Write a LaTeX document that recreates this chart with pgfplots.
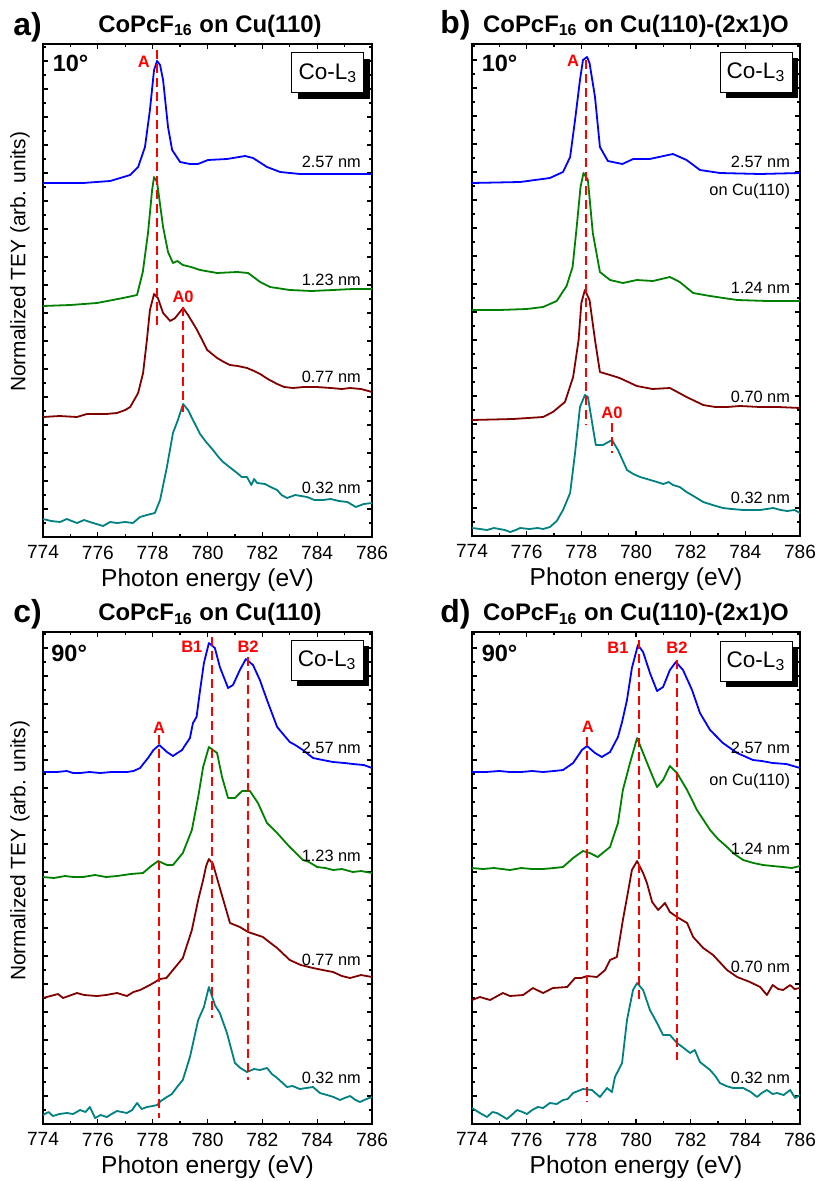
\documentclass[border=0pt]{standalone}
\usepackage{fontspec}
\setmainfont{Liberation Sans}
\setsansfont{Liberation Sans}
\usepackage{pgfplots}
\pgfplotsset{compat=1.18}
\usetikzlibrary{shadows}
\definecolor{cBlue}{HTML}{0000FF}
\definecolor{cGreen}{HTML}{008000}
\definecolor{cMaroon}{HTML}{800000}
\definecolor{cTeal}{HTML}{008080}
\definecolor{cRed}{HTML}{FF0000}

\pgfplotsset{
  xas/.style={
    scale only axis, clip=false,
    xmin=774, xmax=786, ymin=0,
    xtick={774,776,...,786}, minor x tick num=1,
    ytick={0,28,...,490}, minor y tick num=1, yticklabels={},
    tick align=inside, major tick length=2.6bp, minor tick length=1.6bp,
    axis line style={line width=1bp},
    every tick/.style={black, line width=0.6bp},
    ticklabel style={font=\fontsize{9.6}{11}\selectfont},
    xticklabel style={yshift=-0.8bp},
    /pgf/number format/assume math mode=true,
    /pgf/number format/1000 sep={},
    xlabel={Photon energy (eV)},
    xlabel style={font=\fontsize{12.3}{14}\selectfont, at={(axis description cs:0.5,-0.087)}, anchor=center},
  },
  spec/.style={line width=0.9bp, line join=round},
  mark line/.style={cRed, line width=1bp, dash pattern=on 4.5bp off 2.5bp},
}
\tikzset{
  pk/.style={text=cRed, font=\bfseries\fontsize{8.3}{9}\selectfont},
  thk/.style={anchor=base east, font=\fontsize{8.2}{9}\selectfont},
  ang/.style={anchor=west, font=\bfseries\fontsize{11.8}{13}\selectfont},
  edge/.style={draw=black, line width=0.5bp, fill=white, minimum width=36bp, minimum height=20bp,
    inner sep=0pt, font=\fontsize{11.3}{12}\selectfont,
    drop shadow={shadow xshift=3bp, shadow yshift=-3.2bp, fill=black, opacity=1}},
  lett/.style={anchor=base west, font=\bfseries\fontsize{16}{18}\selectfont, inner sep=0pt},
  ttl/.style={anchor=base, font=\bfseries\fontsize{12}{14}\selectfont, inner sep=0pt},
}

\begin{document}
\begin{tikzpicture}
\path[use as bounding box] (0,0) rectangle (408.5bp,-590.5bp);

% ---------------- a) 10 deg, Cu(110)
\begin{axis}[xas, at={(21.5bp,-268.5bp)}, anchor=south west,
  width=164.5bp, height=246.5bp, ymax=493,
  ylabel={Normalized TEY (arb. units)},
  ylabel style={font=\fontsize{10.5}{12}\selectfont, at={(axis description cs:-0.07,0.558)}, anchor=center}]
\addplot[spec, cBlue] coordinates {
 (774.0,354) (775.46,354) (776.45,356) (777.18,362) (777.47,370) (777.72,390) (777.90,427)
 (778.05,467) (778.16,476) (778.27,472) (778.38,457) (778.56,410) (778.71,387) (779.00,375)
 (779.36,373) (779.65,373) (780.02,377) (780.71,378) (781.37,381) (781.66,379) (782.17,370)
 (782.65,365) (783.37,363) (784.57,363) (786.0,363)};
\addplot[spec, cGreen] coordinates {
 (774.0,231) (775.0,232) (775.97,234) (776.92,239) (777.43,242) (777.64,265) (777.83,304)
 (777.98,347) (778.05,360) (778.16,355) (778.38,310) (778.56,285) (778.74,274) (778.9,276)
 (779.1,272) (779.4,270) (779.73,267) (780.35,264) (781.08,265) (781.48,264) (781.92,255)
 (782.28,250) (783.0,247) (783.8,246) (784.57,247) (785.3,248) (786.0,248)};
\addplot[spec, cMaroon] coordinates {
 (774.0,120) (774.6,121) (775.24,120) (775.6,123) (775.97,123) (776.3,123) (776.70,124)
 (777.0,127) (777.18,130) (777.47,144) (777.65,164) (777.79,197) (777.90,227) (778.05,243)
 (778.19,239) (778.38,224) (778.64,216) (778.82,219) (779.11,229) (779.29,222) (779.62,207)
 (779.99,187) (780.35,179) (780.6,175) (780.82,172) (781.1,171) (781.44,169) (781.7,166)
 (781.92,163) (782.2,158) (782.54,153) (782.8,150) (783.12,149) (783.5,150) (783.99,150)
 (784.5,149) (784.9,148) (785.20,149) (785.6,148) (786.0,145)};
\addplot[spec, cTeal] coordinates {
 (774.0,18) (774.3,16) (774.62,15) (774.87,18) (775.05,16) (775.24,14) (775.5,17) (775.71,15)
 (775.95,13) (776.19,11) (776.45,15) (776.7,14) (777.0,15) (777.28,14) (777.54,20) (777.79,22)
 (778.08,24) (778.27,37) (778.52,70) (778.74,104) (778.92,117) (779.11,133) (779.29,127)
 (779.47,117) (779.73,103) (779.95,95) (780.2,87) (780.4,80) (780.57,75) (780.8,70) (781.08,64)
 (781.25,60) (781.44,60) (781.6,52) (781.7,58) (781.81,54) (782.1,53) (782.3,50) (782.54,47)
 (782.7,42) (782.9,39) (783.2,42) (783.63,40) (783.9,37) (784.21,37) (784.5,38) (784.79,36)
 (785.1,35) (785.41,30) (785.7,33) (786.0,34)};
\addplot[mark line] coordinates {(778.16,487) (778.16,212)};
\addplot[mark line] coordinates {(779.11,230) (779.11,125)};
\node[pk] at (axis cs:777.68,475) {A};
\node[pk] at (axis cs:779.11,240) {A0};
\node[thk] at (axis cs:785.85,369) {2.57 nm};
\node[thk] at (axis cs:785.85,252) {1.23 nm};
\node[thk] at (axis cs:785.85,155) {0.77 nm};
\node[thk] at (axis cs:785.85,44) {0.32 nm};
\node[ang] at (axis cs:774.1,474) {10°};
\node[edge] at (axis cs:784.39,464) {Co-L\textsubscript{3}};
\end{axis}

% ---------------- b) 10 deg, Cu(110)-(2x1)O
\begin{axis}[xas, at={(236bp,-268bp)}, anchor=south west,
  width=164bp, height=246bp, ymax=492]
\addplot[spec, cBlue] coordinates {
 (774.0,353) (775.76,354) (776.85,358) (777.33,364) (777.59,379) (777.77,416) (777.95,456)
 (778.06,476) (778.21,479) (778.30,473) (778.50,439) (778.68,389) (778.97,375) (779.50,372)
 (779.90,377) (780.50,377) (781.35,382) (781.85,376) (782.34,366) (783.07,363) (784.54,362)
 (786.0,363)};
\addplot[spec, cGreen] coordinates {
 (774.0,226) (775.0,226) (776.0,227) (776.6,229) (777.1,235) (777.46,250) (777.68,269)
 (777.83,309) (777.97,349) (778.08,363) (778.24,356) (778.42,303) (778.68,264) (779.05,256)
 (779.52,253) (780.03,256) (780.62,255) (781.24,259) (781.60,254) (782.09,243) (782.71,240)
 (783.2,238) (783.7,236) (784.8,235) (786.0,235)};
\addplot[spec, cMaroon] coordinates {
 (774.0,116) (775.5,117) (776.6,119) (776.96,124) (777.4,134) (777.7,159) (777.9,196)
 (778.0,233) (778.13,246) (778.3,236) (778.5,196) (778.68,164) (779.05,161) (779.4,158)
 (780.03,150) (780.6,147) (781.24,148) (781.85,139) (782.46,131) (782.9,129) (783.33,129)
 (783.8,130) (784.54,129) (785.2,129) (786.0,128)};
\addplot[spec, cTeal] coordinates {
 (774.0,8) (774.3,7) (774.55,6) (774.8,8) (775.0,7) (775.2,6) (775.4,4) (775.6,6) (775.76,8)
 (776.1,7) (776.4,8) (776.6,7) (776.85,9) (777.1,15) (777.33,26) (777.59,43) (777.77,83)
 (777.95,129) (778.13,141) (778.24,139) (778.42,109) (778.53,91) (778.79,91) (779.12,96)
 (779.34,86) (779.67,66) (779.9,62) (780.15,59) (780.4,57) (780.77,54) (781.0,52) (781.2,54)
 (781.35,51) (781.6,49) (781.85,44) (782.1,40) (782.46,34) (782.8,31) (783.18,28) (783.5,27)
 (783.92,26) (784.2,26) (784.54,26) (785.02,28) (785.3,26) (785.53,25) (785.8,26) (786.0,23)};
\addplot[mark line] coordinates {(778.17,476) (778.17,111)};
\addplot[mark line] coordinates {(779.12,113) (779.12,83)};
\node[pk] at (axis cs:777.70,475) {A};
\node[pk] at (axis cs:779.12,123) {A0};
\node[thk] at (axis cs:785.89,369) {2.57 nm};
\node[thk] at (axis cs:785.89,341) {on Cu(110)};
\node[thk] at (axis cs:785.89,243) {1.24 nm};
\node[thk] at (axis cs:785.89,134) {0.70 nm};
\node[thk] at (axis cs:785.89,33) {0.32 nm};
\node[ang] at (axis cs:774.1,473) {10°};
\node[edge] at (axis cs:784.39,464) {Co-L\textsubscript{3}};
\end{axis}

% ---------------- c) 90 deg, Cu(110)
\begin{axis}[xas, at={(21.5bp,-562bp)}, anchor=south west,
  width=164.5bp, height=246bp, ymax=492,
  ylabel={Normalized TEY (arb. units)},
  ylabel style={font=\fontsize{10.5}{12}\selectfont, at={(axis description cs:-0.07,0.555)}, anchor=center}]
\addplot[spec, cBlue] coordinates {
 (774.0,352) (774.5,352) (774.87,353) (775.1,351) (775.35,351) (775.7,352) (776.08,351)
 (776.5,352) (777.06,352) (777.3,353) (777.54,356) (777.83,366) (778.03,374) (778.24,379)
 (778.52,372) (778.74,368) (779.07,374) (779.36,386) (779.47,401) (779.6,407) (779.73,434)
 (779.87,461) (780.05,481) (780.27,476) (780.45,457) (780.75,436) (780.93,439) (781.18,454)
 (781.4,465) (781.66,459) (781.91,444) (782.17,424) (782.54,397) (783.0,382) (783.2,379)
 (783.48,374) (783.85,366) (784.2,364) (784.58,362) (785.0,361) (785.3,360) (785.7,359)
 (786.0,356)};
\addplot[spec, cGreen] coordinates {
 (774.0,247) (774.4,246) (774.8,248) (775.1,247) (775.46,247) (775.9,249) (776.3,247)
 (776.7,248) (777.2,250) (777.65,251) (777.9,257) (778.2,263) (778.52,259) (778.74,259)
 (779.1,271) (779.43,294) (779.66,327) (779.84,357) (780.05,377) (780.35,371) (780.53,347)
 (780.75,326) (781.0,326) (781.26,333) (781.55,333) (781.84,321) (782.17,301) (782.54,291)
 (783.0,277) (783.48,264) (783.7,262) (784.0,257) (784.3,256) (784.58,254) (784.9,255)
 (785.3,252) (785.6,253) (786.0,251)};
\addplot[spec, cMaroon] coordinates {
 (774.0,126) (774.55,130) (774.73,126) (775.24,131) (775.5,129) (775.97,128) (776.3,129)
 (776.7,131) (777.06,128) (777.3,132) (777.54,134) (777.9,139) (778.27,145) (778.5,146)
 (778.74,154) (779.1,166) (779.43,194) (779.66,224) (779.84,244) (779.95,258) (780.05,265)
 (780.2,260) (780.45,236) (780.82,201) (781.18,197) (781.48,192) (781.7,190) (782.02,187)
 (782.3,181) (782.54,176) (783.0,164) (783.4,159) (783.85,156) (784.2,154) (784.58,152)
 (784.9,148) (785.2,146) (785.6,149) (786.0,147)};
\addplot[spec, cTeal] coordinates {
 (774.0,9) (774.2,12) (774.36,8) (774.6,10) (774.87,11) (775.1,10) (775.35,14) (775.55,12)
 (775.71,17) (775.9,6) (776.1,9) (776.33,7) (776.5,10) (776.7,13) (777.06,11) (777.25,14)
 (777.43,21) (777.6,15) (777.79,17) (778.0,18) (778.16,19) (778.3,23) (778.52,27) (778.7,30)
 (778.89,37) (779.1,44) (779.36,67) (779.66,104) (779.87,117) (780.05,137) (780.27,119)
 (780.45,111) (780.71,91) (781.0,61) (781.2,56) (781.44,52) (781.7,55) (781.91,54) (782.17,56)
 (782.35,50) (782.54,46) (782.9,37) (783.1,38) (783.37,35) (783.6,36) (783.85,37) (784.1,31)
 (784.36,29) (784.6,27) (784.83,24) (785.0,26) (785.2,28) (785.4,24) (785.56,22) (785.8,25)
 (786.0,27)};
\addplot[mark line] coordinates {(778.23,389) (778.23,6)};
\addplot[mark line] coordinates {(780.16,487) (780.16,106)};
\addplot[mark line] coordinates {(781.48,467) (781.48,44)};
\node[pk] at (axis cs:778.23,396) {A};
\node[pk] at (axis cs:779.43,477) {B1};
\node[pk] at (axis cs:781.48,477) {B2};
\node[thk] at (axis cs:785.85,371) {2.57 nm};
\node[thk] at (axis cs:785.85,263) {1.23 nm};
\node[thk] at (axis cs:785.85,159) {0.77 nm};
\node[thk] at (axis cs:785.85,41) {0.32 nm};
\node[ang] at (axis cs:774.05,471) {90°};
\node[edge] at (axis cs:784.36,464) {Co-L\textsubscript{3}};
\end{axis}

% ---------------- d) 90 deg, Cu(110)-(2x1)O
\begin{axis}[xas, at={(236bp,-562bp)}, anchor=south west,
  width=164bp, height=246bp, ymax=492]
\addplot[spec, cBlue] coordinates {
 (774.0,352) (774.5,352) (775.0,353) (775.39,352) (775.8,352) (776.2,353) (776.6,352)
 (777.0,353) (777.33,354) (777.7,361) (778.02,374) (778.21,378) (778.5,371) (778.75,367)
 (779.05,372) (779.34,387) (779.49,402) (779.67,424) (779.85,456) (780.07,479) (780.26,472)
 (780.51,451) (780.77,433) (780.99,437) (781.24,454) (781.46,462) (781.72,454) (782.05,434)
 (782.34,411) (782.71,394) (783.18,381) (783.7,371) (784.28,364) (784.6,363) (785.0,361)
 (785.5,360) (786.0,356)};
\addplot[spec, cGreen] coordinates {
 (774.0,256) (774.4,255) (774.8,256) (775.39,254) (775.8,256) (776.2,255) (776.6,255)
 (777.0,256) (777.33,257) (777.7,266) (778.06,273) (778.31,271) (778.6,267) (779.05,277)
 (779.34,301) (779.52,334) (779.78,361) (780.04,386) (780.26,371) (780.51,354) (780.77,337)
 (780.99,344) (781.24,358) (781.5,351) (781.87,334) (782.23,314) (782.71,294) (783.0,285)
 (783.33,277) (783.6,270) (783.92,264) (784.3,261) (784.65,259) (785.0,258) (785.38,257)
 (785.7,256) (786.0,258)};
\addplot[spec, cMaroon] coordinates {
 (774.0,124) (774.29,127) (774.66,124) (775.13,131) (775.39,128) (775.87,129) (776.23,136)
 (776.6,131) (776.96,136) (777.48,137) (777.77,146) (778.0,146) (778.21,148) (778.57,147)
 (778.87,154) (779.05,164) (779.3,167) (779.52,204) (779.7,231) (779.85,254) (780.04,263)
 (780.26,251) (780.4,241) (780.59,222) (780.81,214) (781.06,221) (781.24,212) (781.5,207)
 (781.87,201) (782.09,187) (782.46,176) (782.82,169) (783.33,154) (783.7,147) (784.17,142)
 (784.54,137) (784.79,129) (785.0,139) (785.2,135) (785.38,134) (785.64,139) (785.8,135)
 (786.0,136)};
\addplot[spec, cTeal] coordinates {
 (774.0,16) (774.29,11) (774.55,7) (774.75,12) (774.91,11) (775.1,8) (775.28,5) (775.45,9)
 (775.65,14) (775.85,12) (776.01,10) (776.2,14) (776.41,17) (776.6,16) (776.85,21) (777.1,20)
 (777.33,24) (777.5,25) (777.7,31) (778.06,35) (778.39,34) (778.68,27) (778.94,36) (779.12,32)
 (779.23,47) (779.49,61) (779.67,104) (779.89,134) (780.04,141) (780.26,134) (780.51,114)
 (780.77,101) (780.99,89) (781.24,89) (781.5,81) (781.7,77) (781.98,71) (782.15,74)
 (782.34,62) (782.71,54) (782.9,48) (783.07,41) (783.3,38) (783.55,36) (783.92,36) (784.2,32)
 (784.43,27) (784.6,31) (784.79,34) (785.0,30) (785.16,31) (785.4,29) (785.64,34) (785.82,26)
 (786.0,29)};
\addplot[mark line] coordinates {(778.21,387) (778.21,22)};
\addplot[mark line] coordinates {(780.11,484) (780.11,121)};
\addplot[mark line] coordinates {(781.5,464) (781.5,64)};
\node[pk] at (axis cs:778.24,397) {A};
\node[pk] at (axis cs:779.34,476) {B1};
\node[pk] at (axis cs:781.5,476) {B2};
\node[thk] at (axis cs:785.89,371) {2.57 nm};
\node[thk] at (axis cs:785.89,339) {on Cu(110)};
\node[thk] at (axis cs:785.89,270) {1.24 nm};
\node[thk] at (axis cs:785.89,152) {0.70 nm};
\node[thk] at (axis cs:785.89,41) {0.32 nm};
\node[ang] at (axis cs:774.1,471) {90°};
\node[edge] at (axis cs:784.39,463) {Co-L\textsubscript{3}};
\end{axis}

% ---------------- panel letters and titles
\begin{scope}[x=0.5bp, y=-0.5bp]
\node[lett] at (13,35) {a)};
\node[lett] at (440,33) {b)};
\node[lett] at (13,623) {c)};
\node[lett] at (440,623) {d)};
\node[ttl] at (210,32) {CoPcF\textsubscript{16} on Cu(110)};
\node[ttl] at (636,32) {CoPcF\textsubscript{16} on Cu(110)-(2x1)O};
\node[ttl] at (210,621) {CoPcF\textsubscript{16} on Cu(110)};
\node[ttl] at (636,621) {CoPcF\textsubscript{16} on Cu(110)-(2x1)O};
\end{scope}
\end{tikzpicture}
\end{document}
